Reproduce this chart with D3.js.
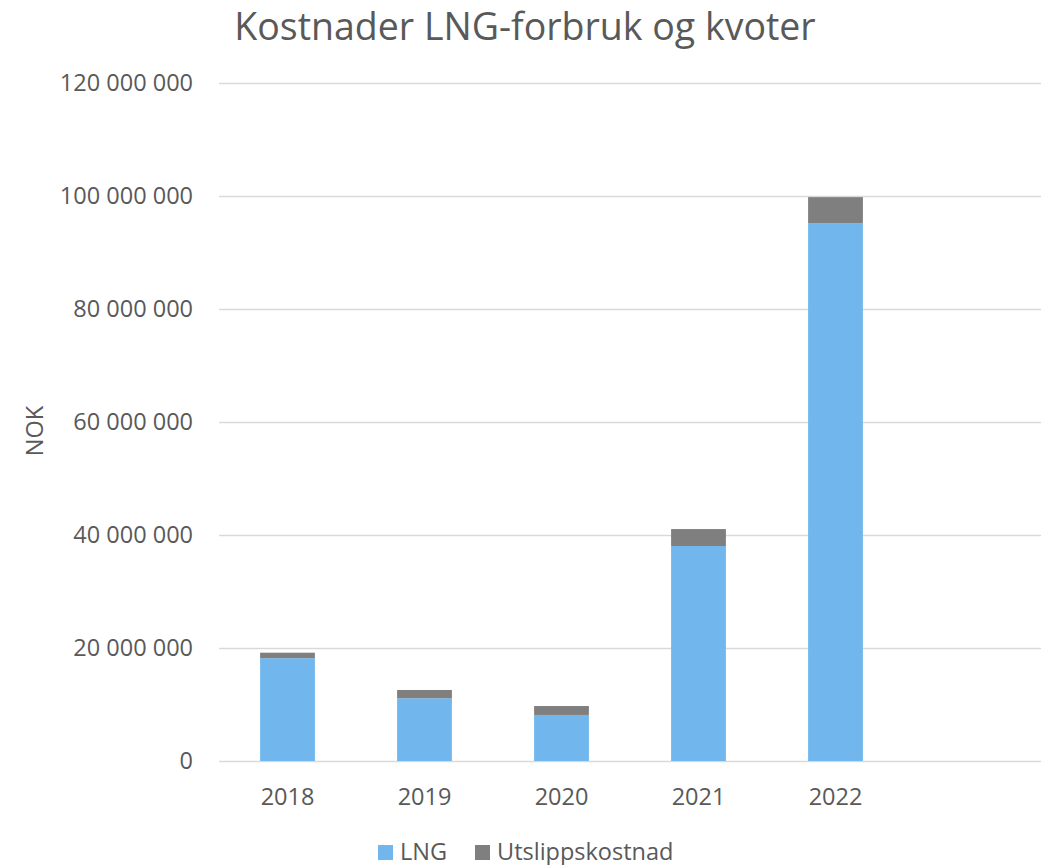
<!DOCTYPE html>
<html><head><meta charset="utf-8">
<script src="https://cdn.jsdelivr.net/npm/d3@7"></script>
<style>body{margin:0;background:#fff}svg{display:block}text{font-family:"Open Sans",sans-serif;fill:#595959}</style>
</head><body>
<svg id="c" width="1041" height="865"></svg>
<script>
const categories = ["2018","2019","2020","2021","2022",""];
const lngValues = [18200000, 11100000, 8150000, 38050000, 95200000, null];
const utslippValues = [970000, 1470000, 1580000, 3000000, 4600000, null];
const yTicks = [0, 20000000, 40000000, 60000000, 80000000, 100000000, 120000000];
const seriesNames = ["LNG", "Utslippskostnad"];
const colors = ["#71b7ed", "#7f7f7f"];

const svg = d3.select("#c");
const m = {left:219, right:1041, top:83, bottom:761};
const x = d3.scaleBand().domain(categories).range([m.left, m.right]).paddingInner(0.6).paddingOuter(0.3);
const y = d3.scaleLinear().domain([0, 120000000]).range([m.bottom, m.top]);
const fmt = v => d3.format(",")(v).replace(/,/g, " ");

// gridlines
svg.append("g").selectAll("line").data(yTicks).join("line")
  .attr("x1", m.left).attr("x2", m.right)
  .attr("y1", d => Math.round(y(d)) + 0.5).attr("y2", d => Math.round(y(d)) + 0.5)
  .attr("stroke", "#d9d9d9").attr("stroke-width", 1.3);

// y axis labels
const yAxis = d3.axisLeft(y).tickValues(yTicks).tickFormat(fmt).tickSize(0).tickPadding(0);
const ga = svg.append("g").attr("transform", `translate(${m.left - 26},0)`).call(yAxis);
ga.select(".domain").remove();
ga.selectAll("text").style("font-size", "23.5px").style("font-family", "'Open Sans',sans-serif").attr("fill", "#595959");

// bars
const data = categories.map((c, i) => ({c, lng: lngValues[i], ut: utslippValues[i]})).filter(d => d.lng != null);
const stack = d3.stack().keys(["lng", "ut"])(data);
svg.append("g").selectAll("g").data(stack).join("g").attr("fill", (d, i) => colors[i])
  .selectAll("rect").data(d => d).join("rect")
  .attr("x", d => x(d.data.c)).attr("width", x.bandwidth())
  .attr("y", d => y(d[1])).attr("height", d => y(d[0]) - y(d[1]));

// x axis labels
const xAxis = d3.axisBottom(x).tickSize(0).tickPadding(0);
const gx = svg.append("g").attr("transform", `translate(0,805)`).call(xAxis);
gx.select(".domain").remove();
gx.selectAll("text").style("font-size", "23.5px").style("font-family", "'Open Sans',sans-serif").attr("fill", "#595959").attr("dy", "0");

// title
svg.append("text").attr("x", 525).attr("y", 40).attr("text-anchor", "middle")
  .style("font-size", "37.5px").text("Kostnader LNG-forbruk og kvoter");

// y label
svg.append("text").attr("transform", "translate(43,431) rotate(-90)").attr("text-anchor", "middle")
  .style("font-size", "23.5px").text("NOK");

// legend
const legX = [378, 475];
const lg = svg.append("g").selectAll("g").data(seriesNames).join("g")
  .attr("transform", (d, i) => `translate(${legX[i]},845)`);
lg.append("rect").attr("width", 15).attr("height", 15).attr("fill", (d, i) => colors[i]);
lg.append("text").attr("x", 22).attr("y", 14.5).style("font-size", "23.5px").text(d => d);
</script>
</body></html>
